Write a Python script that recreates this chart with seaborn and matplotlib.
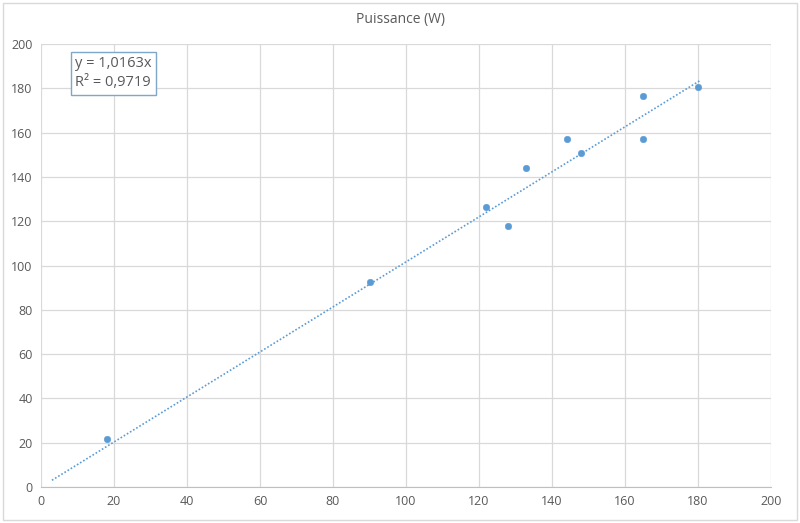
import numpy as np
import pandas as pd
import matplotlib
matplotlib.use('Agg')
import matplotlib.pyplot as plt
import seaborn as sns

# measured vs reference power (W)
x_vals = [18, 90, 122, 128, 133, 144, 148, 165, 165, 180]
y_vals = [21.5, 92.5, 126.5, 117.8, 144, 157, 150.7, 176.5, 157, 180.5]
slope = 1.0163
r2 = 0.9719
trend_x = [3, 180.5]
ticks = [0, 20, 40, 60, 80, 100, 120, 140, 160, 180, 200]

df = pd.DataFrame({'x': x_vals, 'y': y_vals})
trend = pd.DataFrame({'x': trend_x, 'y': [slope * v for v in trend_x]})

sns.set_style('white')
plt.rcParams['font.family'] = ['Open Sans', 'DejaVu Sans']

grey = '#595959'
blue = '#5b9bd5'

fig = plt.figure(figsize=(8, 5.23), dpi=100)
ax = fig.add_axes([0.05125, 0.0688, 0.9125, 0.8471])

sns.lineplot(data=trend, x='x', y='y', ax=ax, color=blue, linestyle=(0, (1, 1.2)), linewidth=1.2)
sns.scatterplot(data=df, x='x', y='y', ax=ax, color=blue, s=22, edgecolor=blue, zorder=3)

ax.set_xlim(0, 200)
ax.set_ylim(0, 200)
ax.set_xticks(ticks)
ax.set_yticks(ticks)
ax.grid(True, color='#d9d9d9', linewidth=0.9)
ax.set_axisbelow(True)
for s in ['top', 'right', 'left']:
    ax.spines[s].set_visible(False)
ax.spines['bottom'].set_color('#bfbfbf')
ax.tick_params(axis='both', length=0, labelsize=9, labelcolor=grey, pad=6)
ax.set_xlabel('')
ax.set_ylabel('')

fig.text(0.5, 0.962, 'Puissance (W)', ha='center', va='center', fontsize=10, color=grey)

eq = 'y = {}x\nR² = {}'.format(str(slope).replace('.', ','), str(r2).replace('.', ','))
ax.text(0.047, 0.972, eq, transform=ax.transAxes, ha='left', va='top', fontsize=10.5, color=grey,
        linespacing=1.35,
        bbox=dict(boxstyle='square,pad=0.3', facecolor='white', edgecolor='#7fa7c9', linewidth=1))

# chart area border
fig.patches.append(plt.Rectangle((0.004, 0.006), 0.992, 0.988, transform=fig.transFigure,
                                 fill=False, edgecolor='#d9d9d9', linewidth=1))

fig.savefig('out.png', dpi=100)
